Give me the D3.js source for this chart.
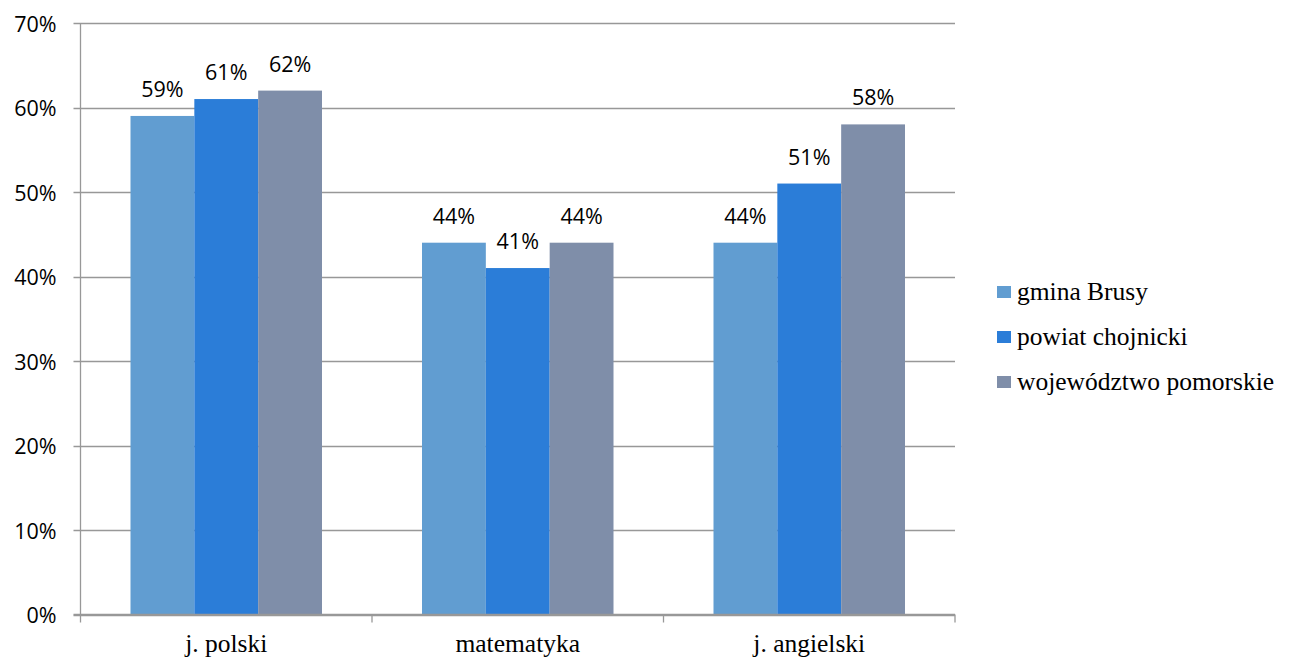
<!DOCTYPE html>
<html>
<head>
<meta charset="utf-8">
<script src="https://cdn.jsdelivr.net/npm/d3@7"></script>
<style>
  body { margin: 0; background: #fff; }
  .pct { font-family: "Open Sans", "DejaVu Sans", sans-serif; font-size: 21.5px; fill: #000; }
  .serif { font-family: "Liberation Serif", "Times New Roman", serif; font-size: 25.5px; fill: #000; }
</style>
</head>
<body>
<svg id="chart" width="1289" height="659"></svg>
<script>
const categories = ["j. polski", "matematyka", "j. angielski"];
const seriesNames = ["gmina Brusy", "powiat chojnicki", "województwo pomorskie"];
const gminaBrusy = [59, 44, 44];
const powiatChojnicki = [61, 41, 51];
const wojewodztwoPomorskie = [62, 44, 58];
const yTicks = [0, 10, 20, 30, 40, 50, 60, 70];

const colors = ["#619dd1", "#2b7dd8", "#7f8ea9"];
const seriesValues = [gminaBrusy, powiatChojnicki, wojewodztwoPomorskie];

const margin = {left: 80.5, right: 334, top: 23, bottom: 44.5};
const width = 1289, height = 659;
const w = width - margin.left - margin.right;
const h = height - margin.top - margin.bottom;

const svg = d3.select('#chart');
const g = svg.append('g').attr('transform', `translate(${margin.left},${margin.top})`);

const x0 = d3.scaleBand().domain(categories).range([0, w]).paddingInner(0).paddingOuter(0);
const x1 = d3.scaleBand().domain(seriesNames).range([50, x0.bandwidth() - 50]).padding(0);
const y = d3.scaleLinear().domain([0, 70]).range([h, 0]);

// gridlines + y ticks
g.selectAll('.grid').data(yTicks).join('line')
  .attr('x1', -7).attr('x2', w)
  .attr('y1', d => Math.round(y(d)) + 0.5).attr('y2', d => Math.round(y(d)) + 0.5)
  .attr('stroke', '#989898').attr('stroke-width', 1.3);

g.selectAll('.ylab').data(yTicks).join('text')
  .attr('class', 'pct')
  .attr('x', -24).attr('y', d => y(d) + 1)
  .attr('dy', '0.35em').attr('text-anchor', 'end')
  .text(d => d + '%');

// y axis line
g.append('line').attr('x1', 0).attr('x2', 0).attr('y1', 0).attr('y2', h)
  .attr('stroke', '#989898').attr('stroke-width', 1.3);

// bars
const groups = g.selectAll('.grp').data(categories).join('g')
  .attr('transform', d => `translate(${x0(d)},0)`);

groups.selectAll('rect').data((c, ci) => seriesNames.map((s, si) => ({s, si, v: seriesValues[si][ci]})))
  .join('rect')
  .attr('x', d => x1(d.s)).attr('width', x1.bandwidth())
  .attr('y', d => y(d.v)).attr('height', d => h - y(d.v))
  .attr('fill', d => colors[d.si]);

groups.selectAll('.val').data((c, ci) => seriesNames.map((s, si) => ({s, si, v: seriesValues[si][ci]})))
  .join('text')
  .attr('class', 'pct')
  .attr('text-anchor', 'middle')
  .attr('x', d => x1(d.s) + x1.bandwidth() / 2)
  .attr('y', d => y(d.v) - 19)
  .text(d => d.v + '%');

// x axis
g.append('line').attr('x1', -7).attr('x2', w).attr('y1', h).attr('y2', h)
  .attr('stroke', '#989898').attr('stroke-width', 1.3);
const xTickPos = categories.map(c => x0(c)).concat([w]);
g.selectAll('.xt').data(xTickPos).join('line')
  .attr('x1', d => d).attr('x2', d => d).attr('y1', h).attr('y2', h + 8)
  .attr('stroke', '#989898').attr('stroke-width', 1.3);
g.selectAll('.xlab').data(categories).join('text')
  .attr('class', 'serif').attr('text-anchor', 'middle')
  .attr('x', d => x0(d) + x0.bandwidth() / 2).attr('y', h + 37)
  .text(d => d);

// legend
const legend = svg.append('g').attr('transform', 'translate(997,292)');
const li = legend.selectAll('g').data(seriesNames).join('g')
  .attr('transform', (d, i) => `translate(0,${i * 45})`);
li.append('rect').attr('x', 0).attr('y', -6).attr('width', 14).attr('height', 12)
  .attr('fill', (d, i) => colors[i]);
li.append('text').attr('class', 'serif').attr('x', 20).attr('y', 8).text(d => d);
</script>
</body>
</html>
